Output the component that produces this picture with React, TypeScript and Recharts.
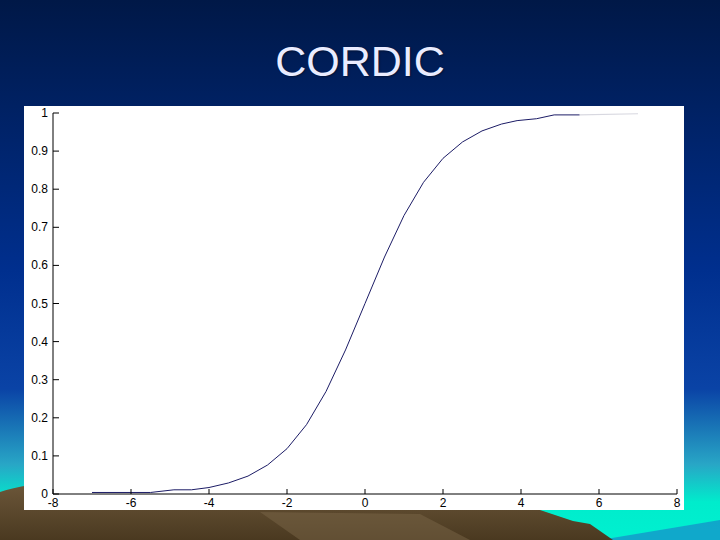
import React from 'react';
import { LineChart, Line, XAxis, YAxis } from 'recharts';

const xValues = [-7, -5.5, -4.9, -4.45, -4, -3.5, -3, -2.5, -2, -1.5, -1, -0.5, 0, 0.5, 1, 1.5, 2, 2.5, 3, 3.5, 3.9, 4.4, 4.85, 5.5, 7];
// dark curve values, null where only the faint tail shows
const curveValues = [0.004, 0.004, 0.011, 0.011, 0.017, 0.029, 0.047, 0.076, 0.119, 0.182, 0.269, 0.378, 0.5, 0.622, 0.731, 0.818, 0.881, 0.924, 0.953, 0.971, 0.98, 0.985, 0.995, 0.995, null];
// faint grey tail on the right
const tailValues = [null, null, null, null, null, null, null, null, null, null, null, null, null, null, null, null, null, null, null, null, null, null, null, 0.995, 0.998];

const xTicks = [-8, -6, -4, -2, 0, 2, 4, 6, 8];
const yTicks = [0, 0.1, 0.2, 0.3, 0.4, 0.5, 0.6, 0.7, 0.8, 0.9, 1];

const data = xValues.map((x, i) => ({ x, curve: curveValues[i], tail: tailValues[i] }));

const font = '"Liberation Sans", Arial, sans-serif';

const LeftTick = ({ x, y, payload }: any) => (
  <g>
    <line x1={x + 5} x2={x + 11} y1={y} y2={y} stroke="#000" />
    <text x={x} y={y + 4} textAnchor="end" fontSize={12} fontFamily={font} fill="#000">
      {payload.value}
    </text>
  </g>
);

const BottomTick = ({ x, y, payload }: any) => (
  <g>
    <line x1={x} x2={x} y1={y} y2={y - 5} stroke="#000" />
    <text x={x} y={y + 13} textAnchor="middle" fontSize={12} fontFamily={font} fill="#000">
      {payload.value}
    </text>
  </g>
);

const RightTick = ({ x, y }: any) => <line x1={x} x2={x - 6} y1={y} y2={y} stroke="#000" />;
const TopTick = ({ x, y }: any) => <line x1={x} x2={x} y1={y} y2={y + 5} stroke="#e2e2e2" />;

const Background = () => (
  <svg width={720} height={540} style={{ position: 'absolute', left: 0, top: 0 }}>
    <defs>
      <linearGradient id="sky" x1="0" y1="0" x2="0" y2="1">
        <stop offset="0" stopColor="#001847" />
        <stop offset="0.5" stopColor="#002f8e" />
        <stop offset="0.72" stopColor="#0a43a6" />
        <stop offset="0.86" stopColor="#28a6c6" />
        <stop offset="0.93" stopColor="#00eccc" />
        <stop offset="1" stopColor="#00f0d0" />
      </linearGradient>
      <linearGradient id="ground" x1="0" y1="0" x2="0" y2="1">
        <stop offset="0" stopColor="#6b5639" />
        <stop offset="1" stopColor="#4a3920" />
      </linearGradient>
    </defs>
    <rect width={720} height={540} fill="url(#sky)" />
    <polygon points="600,540 720,520 720,540" fill="#1a78c8" opacity={0.6} />
    <path
      d="M0,492 Q12,488 30,485 L520,505 L540,510 L573,521 L590,524 L613,540 L0,540 Z"
      fill="url(#ground)"
    />
    <path d="M260,512 L420,514 L470,540 L300,540 Z" fill="#7a6547" opacity={0.5} />
  </svg>
);

export default function App() {
  return (
    <div style={{ position: 'fixed', left: 0, top: 0, width: 720, height: 540, overflow: 'hidden' }}>
      <Background />
      <div
        style={{
          position: 'absolute',
          left: 0,
          top: 36,
          width: 720,
          textAlign: 'center',
          fontFamily: font,
          fontSize: 43,
          color: '#eaecff',
          textShadow: '1px 1px 2px rgba(0,0,0,0.4)',
          lineHeight: '50px',
        }}
      >
        CORDIC
      </div>
      <div style={{ position: 'absolute', left: 24, top: 106, width: 660, height: 404, background: '#fff' }}>
        <LineChart width={660} height={404} data={data} margin={{ top: 7, right: 7, left: 0, bottom: 0 }}>
          <XAxis
            xAxisId="bottom"
            dataKey="x"
            type="number"
            domain={[-8, 8]}
            ticks={xTicks}
            height={16}
            tickSize={0}
            tickMargin={0}
            axisLine={{ stroke: '#000' }}
            tickLine={false}
            tick={<BottomTick />}
            interval={0}
          />
          <XAxis
            xAxisId="top"
            orientation="top"
            dataKey="x"
            type="number"
            domain={[-8, 8]}
            ticks={xTicks}
            height={0}
            tickSize={0}
            tickMargin={0}
            axisLine={false}
            tickLine={false}
            tick={<TopTick />}
            interval={0}
          />
          <YAxis
            yAxisId="left"
            type="number"
            domain={[0, 1]}
            ticks={yTicks}
            width={29}
            tickSize={0}
            tickMargin={5}
            axisLine={{ stroke: '#000' }}
            tickLine={false}
            tick={<LeftTick />}
            interval={0}
          />
          <YAxis
            yAxisId="right"
            orientation="right"
            type="number"
            domain={[0, 1]}
            ticks={yTicks}
            width={0}
            tickSize={0}
            tickMargin={0}
            axisLine={{ stroke: '#000' }}
            tickLine={false}
            tick={<RightTick />}
            interval={0}
          />
          <Line
            xAxisId="bottom"
            yAxisId="left"
            dataKey="tail"
            type="linear"
            stroke="#d8d8e0"
            strokeWidth={1.2}
            dot={false}
            connectNulls={false}
            isAnimationActive={false}
          />
          <Line
            xAxisId="bottom"
            yAxisId="left"
            dataKey="curve"
            type="linear"
            stroke="#1c1c66"
            strokeWidth={1}
            dot={false}
            connectNulls={false}
            isAnimationActive={false}
          />
        </LineChart>
      </div>
    </div>
  );
}
